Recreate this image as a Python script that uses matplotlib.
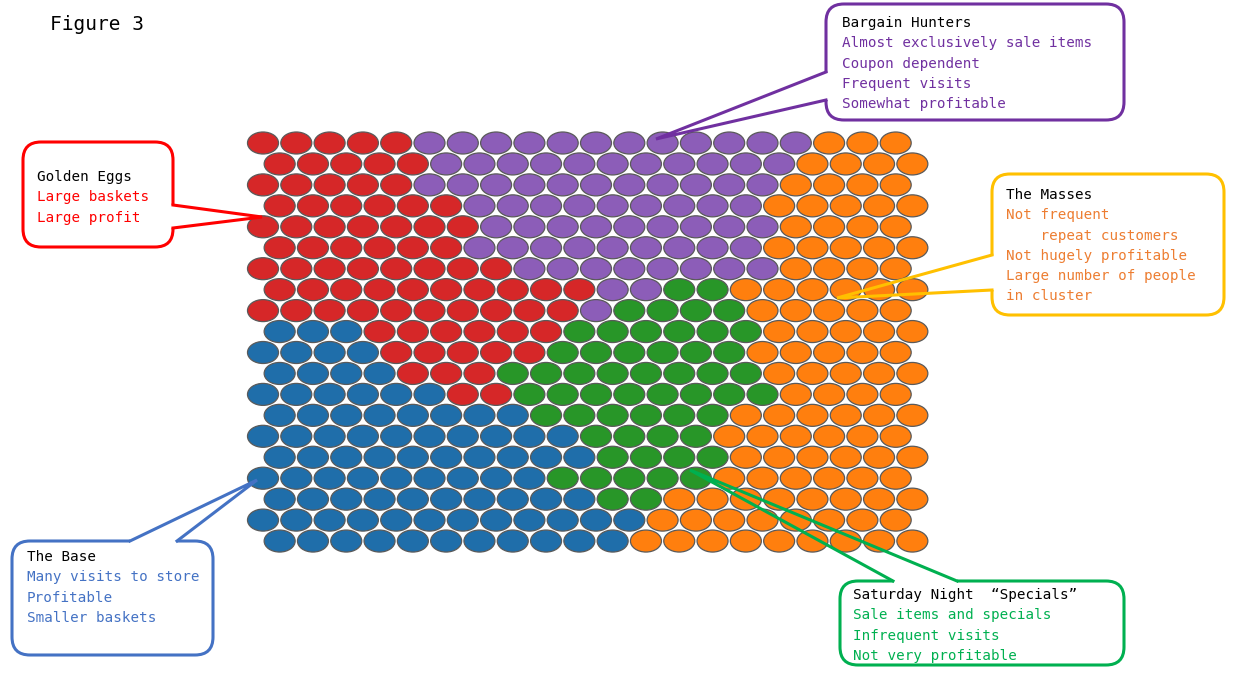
import matplotlib
matplotlib.use("Agg")
import matplotlib.pyplot as plt
from matplotlib.patches import Ellipse, FancyBboxPatch

# cluster assignment of the 20x20 hex map, row by row (top row first)
# R = Golden Eggs, P = Bargain Hunters, O = The Masses, B = The Base, G = Saturday Night
cluster_rows = [
    "RRRRRPPPPPPPPPPPPOOO",
    "RRRRRPPPPPPPPPPPOOOO",
    "RRRRRPPPPPPPPPPPOOOO",
    "RRRRRRPPPPPPPPPOOOOO",
    "RRRRRRRPPPPPPPPPOOOO",
    "RRRRRRPPPPPPPPPOOOOO",
    "RRRRRRRRPPPPPPPPOOOO",
    "RRRRRRRRRRPPGGOOOOOO",
    "RRRRRRRRRRPGGGGOOOOO",
    "BBBRRRRRRGGGGGGOOOOO",
    "BBBBRRRRRGGGGGGOOOOO",
    "BBBBRRRGGGGGGGGOOOOO",
    "BBBBBBRRGGGGGGGGOOOO",
    "BBBBBBBBGGGGGGOOOOOO",
    "BBBBBBBBBBGGGGOOOOOO",
    "BBBBBBBBBBGGGGOOOOOO",
    "BBBBBBBBBGGGGGOOOOOO",
    "BBBBBBBBBBGGOOOOOOOO",
    "BBBBBBBBBBBBOOOOOOOO",
    "BBBBBBBBBBBOOOOOOOOO",
]
cell_colors = {"R": "#d62728", "P": "#8c5db8", "O": "#ff7f0e",
               "B": "#1f6eaa", "G": "#289628"}

# callout texts
titles = ["Golden Eggs", "Bargain Hunters", "The Masses", "The Base",
          "Saturday Night  \u201cSpecials\u201d"]
details = [
    ["Large baskets", "Large profit"],
    ["Almost exclusively sale items", "Coupon dependent", "Frequent visits",
     "Somewhat profitable"],
    ["Not frequent", "    repeat customers", "Not hugely profitable",
     "Large number of people", "in cluster"],
    ["Many visits to store", "Profitable", "Smaller baskets"],
    ["Sale items and specials", "Infrequent visits", "Not very profitable"],
]
edge_colors = ["#ff0000", "#7030a0", "#ffc000", "#4472c4", "#00b050"]
text_colors = ["#ff0000", "#7030a0", "#ed7d31", "#4472c4", "#00b050"]

# layout (pixel coords, y down): box (x0, y0, x1, y1), first text line, pointer base pts, tip
boxes = [(23, 142, 173, 247), (826, 4, 1124, 120), (992, 174, 1224, 315),
         (12, 541, 213, 655), (840, 581, 1124, 665)]
text_pos = [(37, 177), (842, 23), (1006, 195), (27, 557), (853, 595)]
bases = [((173, 205), (173, 228)), ((826, 72), (826, 100)),
         ((992, 255), (992, 290)), ((130, 541), (177, 541)),
         ((893, 581), (957, 581))]
tips = [(262, 217), (656, 139), (837, 298), (257, 480), (690, 470)]

W, H = 1236, 679
fig = plt.figure(figsize=(W / 100, H / 100), dpi=100)
ax = fig.add_axes([0, 0, 1, 1])
ax.set_xlim(0, W)
ax.set_ylim(H, 0)
ax.axis("off")

# hex grid
x0, y0, dx, dy = 263, 143, 33.3, 20.95
for r, row in enumerate(cluster_rows):
    for c, k in enumerate(row):
        x = x0 + dx * (c + 0.5 * (r % 2))
        y = y0 + dy * r
        ax.add_patch(Ellipse((x, y), 31, 22, facecolor=cell_colors[k],
                             edgecolor="#5a5a5a", lw=0.9, zorder=2))

ax.text(50, 25, "Figure 3", fontsize=14, family="DejaVu Sans Mono",
        va="center", ha="left", color="black")

mono = "DejaVu Sans Mono"
for i in range(len(titles)):
    bx0, by0, bx1, by1 = boxes[i]
    ec = edge_colors[i]
    ax.add_patch(FancyBboxPatch((bx0, by0), bx1 - bx0, by1 - by0,
                                boxstyle="round,pad=0,rounding_size=18",
                                facecolor="white", edgecolor=ec, lw=2.2, zorder=5))
    (p1, p2), tip = bases[i], tips[i]
    # open the box outline where the pointer leaves it
    ax.plot([p1[0], p2[0]], [p1[1], p2[1]], color="white", lw=3.2,
            solid_capstyle="butt", zorder=6)
    ax.plot([p1[0], tip[0], p2[0]], [p1[1], tip[1], p2[1]], color=ec, lw=2.2,
            solid_joinstyle="miter", zorder=7)
    tx, ty = text_pos[i]
    ax.text(tx, ty, titles[i], fontsize=10.3, family=mono, color="black",
            va="center", ha="left", zorder=8)
    for j, line in enumerate(details[i]):
        ax.text(tx, ty + 20.3 * (j + 1), line, fontsize=10.3, family=mono,
                color=text_colors[i], va="center", ha="left", zorder=8)

fig.savefig("out.png", dpi=100, facecolor="white")
